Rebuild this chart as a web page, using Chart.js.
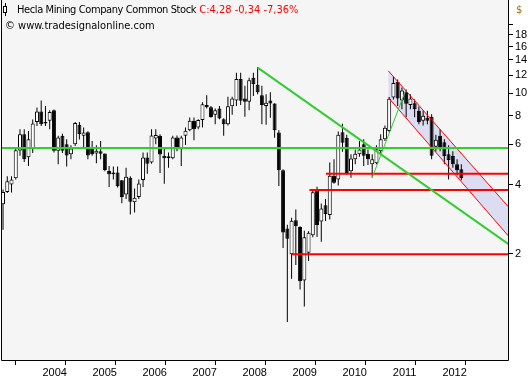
<!DOCTYPE html>
<html><head><meta charset="utf-8">
<script src="https://cdn.jsdelivr.net/npm/chart.js@4/dist/chart.umd.min.js"></script>
<style>
html,body{margin:0;padding:0;background:#fff;}
#wrap{position:relative;width:531px;height:380px;overflow:hidden;}
#c{position:absolute;left:0;top:0;}
.hdr{position:absolute;font-family:"DejaVu Sans Condensed","DejaVu Sans",sans-serif;font-stretch:condensed;font-size:11px;line-height:14px;color:#000;white-space:nowrap;}
#ico{position:absolute;left:3px;top:6px;width:2px;height:5px;border:1px solid #000;background:#fff;}
#icoW{position:absolute;left:5px;top:3px;width:1px;height:13px;background:#000;}
</style></head><body>
<div id="wrap">
<canvas id="c" width="531" height="380"></canvas>
<div id="icoW"></div><div id="ico"></div>
<div class="hdr" style="left:17px;top:3px"><span style="letter-spacing:-0.4px">Hecla Mining Company Common Stock</span> <span style="color:#ff0000">C:4,28 -0,34 -7,36%</span></div>
<div class="hdr" style="left:5px;top:19px">© www.tradesignalonline.com</div>
<div class="hdr" style="left:516px;top:3px;color:#a0700a">$</div>
</div>
<script>
// Monthly candles (index 0 = first candle, ~Apr 2003; last = ~Apr 2012)
const opens = [3.29,3.72,4.01,4.27,5.64,6.63,5.27,5.71,7.5,8.33,7.4,7.6,8.45,5.62,6.53,6.0,5.43,6.0,7.3,6.53,6.77,5.78,5.47,5.6,5.47,4.59,4.52,4.52,4.18,3.63,4.29,3.36,3.54,4.19,5.25,5.0,6.36,6.54,5.35,5.32,5.22,6.42,5.71,6.53,6.9,7.6,7.1,7.65,8.89,8.7,8.06,8.6,7.71,7.33,8.79,9.3,11.55,9.5,9.2,11.7,10.9,9.8,8.8,9.3,9.03,6.76,4.62,2.58,1.99,2.8,2.62,1.53,2.02,2.41,3.78,2.77,3.26,2.95,4.38,4.22,6.77,6.41,4.58,5.16,5.43,6.0,5.46,4.91,4.96,5.6,6.31,6.85,9.6,11.2,9.3,10.1,8.9,9.05,8.4,7.6,7.84,7.9,5.86,6.54,6.12,5.43,5.33,4.91,4.67];
const highs = [3.81,4.36,4.36,5.77,6.98,6.98,6.85,7.7,8.67,9.3,8.8,8.45,8.5,6.53,6.67,6.31,5.94,7.5,7.5,7.1,6.84,6.2,5.94,6.2,5.47,4.83,4.8,4.8,4.19,4.74,4.36,3.85,4.22,5.53,5.53,6.98,6.98,6.63,5.8,5.53,6.53,6.56,6.53,7.1,7.85,7.85,7.71,9.15,9.8,8.8,8.6,8.8,7.8,9.66,9.66,12.3,12.3,10.8,11.7,12.3,13.0,10.8,9.9,10.1,9.05,6.9,4.67,2.68,2.87,3.12,2.64,2.52,2.51,3.82,3.92,3.31,3.47,5.0,5.16,6.82,7.37,6.6,5.43,5.7,6.2,6.31,5.7,5.43,5.94,6.63,7.25,9.65,11.8,11.5,10.6,10.4,9.9,9.43,8.76,8.4,8.4,8.1,6.6,6.98,6.31,5.94,5.6,5.16,4.91];
const lows = [2.55,3.68,3.7,4.22,5.35,5.02,4.83,5.5,7.2,7.2,7.2,6.98,5.53,4.91,5.5,4.8,5.16,5.9,6.3,5.83,5.16,5.35,4.96,5.16,4.58,3.91,4.22,3.89,3.32,3.47,2.97,3.03,3.47,3.91,4.47,4.94,6.0,4.5,4.04,4.74,5.16,5.6,4.83,5.96,6.84,6.25,6.98,7.1,8.6,7.84,7.33,7.71,6.53,7.25,8.06,8.8,8.9,7.9,8.45,9.75,9.9,7.33,7.3,7.84,6.4,3.95,2.12,1.01,1.56,1.79,1.40,1.18,1.86,2.36,2.37,2.26,2.78,2.82,4.04,3.97,5.57,4.42,4.29,4.91,5.3,4.83,4.87,4.3,4.91,5.43,6.2,6.77,9.4,8.8,8.53,7.86,8.53,7.86,7.33,7.25,7.33,5.16,5.57,5.6,4.91,4.22,4.74,4.4,4.18];
const closes = [3.72,4.14,4.22,5.65,6.63,5.16,6.31,7.4,8.33,7.33,7.5,8.3,5.62,6.42,5.62,5.36,5.75,7.42,6.63,6.75,5.36,5.43,5.62,5.46,4.64,4.44,4.44,3.94,3.54,4.33,3.37,3.51,4.05,5.25,4.94,6.56,6.58,5.41,5.22,5.22,6.42,5.71,6.42,6.87,7.6,6.98,7.65,8.97,8.7,7.88,8.45,7.77,7.33,8.79,9.5,11.55,9.28,9.2,11.4,10.96,10.1,8.9,9.1,9.03,6.9,4.62,2.48,2.33,2.79,2.64,1.52,2.36,2.47,3.71,2.67,3.15,2.98,4.38,4.08,6.6,6.1,4.5,5.2,5.46,5.7,5.35,5.16,5.16,5.71,6.31,7.09,9.48,11.1,9.5,10.3,9.0,9.5,8.53,7.5,7.98,7.6,5.35,6.28,5.77,5.33,5.12,4.91,4.62,4.28];

// Year axis labels and their tick positions (in candle-index units)
const yearLabels = ['2004','2005','2006','2007','2008','2009','2010','2011','2012'];
const yearTickIndex = [8.88,20.66,32.44,44.22,56.0,67.78,79.56,91.34,103.12];

// Price axis ticks
const priceTicks = [2,4,6,8,10,12,14,16,18,20];
const priceTickLabels = ['2','4','6','8','10','12','14','16','18',''];

// Drawn studies: [startIndex, startPrice, endIndex, endPrice]
const greenLevel = [-0.3, 5.78, 119.2, 5.78];
const greenTrend = [60, 12.94, 119.2, 2.2];
const greenThin = [87, 4.30, 94.7, 10.1];
const redLevels = [[76.1, 4.47], [72.2, 3.79], [68.0, 1.99]];
const channelUpper = [90.8, 12.53, 119.2, 3.19];
const channelLower = [90.8, 9.59, 119.2, 2.38];

const X_MIN = -0.24, X_MAX = 119.0;

const idx = opens.map((_, i) => i);
const wickData = idx.map(i => ({x: i, y: [lows[i], highs[i]]}));
const bodyData = idx.map(i => ({x: i, y: [opens[i], closes[i]]}));
const seg = a => [{x: a[0], y: a[1]}, {x: a[2], y: a[3]}];
const GREEN = '#33cc33', RED = '#ff0000';

const datasets = [
  {type:'line', data: seg(greenLevel), borderColor: GREEN, borderWidth: 2, pointRadius: 0, order: 1},
  {type:'line', data: seg(greenTrend), borderColor: GREEN, borderWidth: 2, pointRadius: 0, order: 1},
  {type:'line', data: seg(greenThin), borderColor: GREEN, borderWidth: 1, pointRadius: 0, order: 1},
  ...redLevels.map(r => ({type:'line', data: [{x: r[0], y: r[1]}, {x: X_MAX + 0.5, y: r[1]}], borderColor: RED, borderWidth: 2, pointRadius: 0, order: 1})),
  {type:'line', data: seg(channelUpper), borderColor: RED, borderWidth: 1, pointRadius: 0, fill: '+1', backgroundColor: '#dcdcf2', order: 2},
  {type:'line', data: seg(channelLower), borderColor: RED, borderWidth: 1, pointRadius: 0, fill: false, order: 2},
  {type:'bar', data: bodyData, grouped: false, barThickness: 4, borderWidth: 1, borderColor: '#000', borderSkipped: false, inflateAmount: 0,
    backgroundColor: ctx => (closes[ctx.dataIndex] >= opens[ctx.dataIndex] ? '#ffffff' : '#000000'), order: 5},
  {type:'bar', data: wickData, grouped: false, barThickness: 1, borderWidth: 0, backgroundColor: '#000', inflateAmount: 0, order: 6}
];

const frame = {
  id: 'frame',
  beforeDraw(chart) {
    const {ctx, chartArea: a} = chart;
    ctx.save(); ctx.fillStyle = '#f5f5f5';
    ctx.fillRect(a.left, a.top, a.right - a.left, a.bottom - a.top);
    ctx.restore();
  },
  afterDraw(chart) {
    const {ctx, chartArea: a} = chart;
    ctx.save(); ctx.strokeStyle = '#000'; ctx.lineWidth = 1;
    ctx.beginPath();
    ctx.moveTo(a.left - 0.5, a.top); ctx.lineTo(a.left - 0.5, a.bottom + 0.5);
    ctx.lineTo(a.right + 0.5, a.bottom + 0.5); ctx.lineTo(a.right + 0.5, a.top);
    ctx.stroke(); ctx.restore();
  }
};

new Chart(document.getElementById('c'), {
  data: {datasets},
  plugins: [frame],
  options: {
    responsive: false, animation: false, devicePixelRatio: 1,
    layout: {padding: {left: 2, top: 0, right: 0, bottom: 0}},
    plugins: {legend: {display: false}, tooltip: {enabled: false}, filler: {drawTime: 'beforeDatasetsDraw'}},
    scales: {
      x: {
        type: 'linear', min: X_MIN, max: X_MAX, offset: false,
        grid: {drawOnChartArea: false, drawTicks: true, tickLength: 5, tickColor: '#000', color: '#000'},
        border: {display: false},
        ticks: {align: 'center', labelOffset: 14, autoSkip: false, maxRotation: 0, padding: 1, color: '#000',
          font: {family: 'Liberation Sans', size: 11},
          callback: (v, i) => yearLabels[i]},
        afterBuildTicks: s => { s.ticks = yearTickIndex.map(v => ({value: v})); },
        afterFit: s => { s.height = 20; s.paddingLeft = 0; s.paddingRight = 0; }
      },
      y: {
        type: 'logarithmic', position: 'right', min: 0.69, max: 25.5,
        grid: {drawOnChartArea: false, drawTicks: true, tickLength: 5, tickColor: '#000', color: '#000'},
        border: {display: false},
        ticks: {color: '#000', padding: 2, font: {family: 'Liberation Sans', size: 11},
          callback: (v, i) => priceTickLabels[i]},
        afterBuildTicks: s => { s.ticks = priceTicks.map(v => ({value: v})); },
        afterFit: s => { s.width = 23; s.paddingTop = 0; s.paddingBottom = 0; }
      }
    }
  }
});
</script>
</body></html>
